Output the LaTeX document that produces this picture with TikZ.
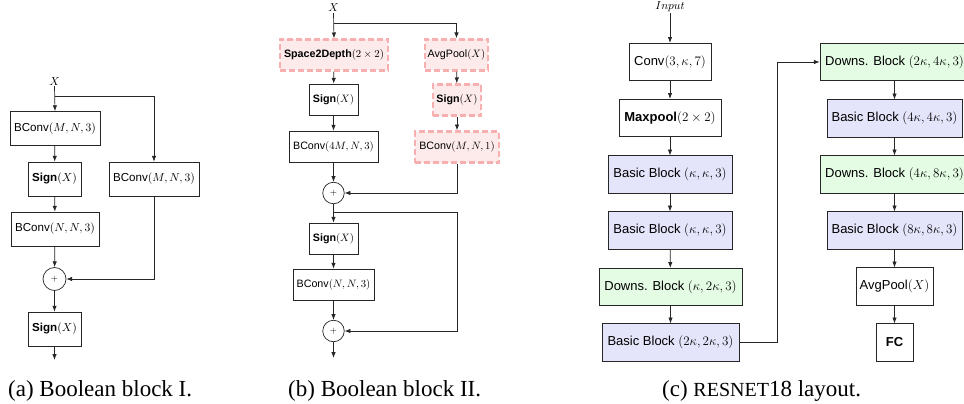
\documentclass[tikz,border=0pt]{standalone}
\usepackage{fix-cm}
\usepackage{fontspec}
\setmainfont{Liberation Sans}
\newfontfamily\capfont{Liberation Serif}
\usetikzlibrary{arrows.meta,shapes.geometric}
\definecolor{bbfill}{HTML}{E4E4FA}
\definecolor{dbfill}{HTML}{E4FBE4}
\definecolor{pinkline}{HTML}{F7AFAF}
\definecolor{pinkfill}{HTML}{FDEBEB}
\tikzset{
  arr/.style={draw=black!85, line width=0.7pt, -{Latex[length=5.8pt,width=4.4pt]}},
  boxa/.style={draw=black!85, line width=0.7pt, inner sep=0pt, minimum height=34pt, font=\fontsize{11.6}{13}\selectfont},
  boxb/.style={draw=black!85, line width=0.7pt, inner sep=0pt, minimum height=31pt, font=\fontsize{10.7}{12}\selectfont},
  pinkb/.style={draw=pinkline, fill=pinkfill, line width=2.4pt, dash pattern=on 6pt off 3pt, inner sep=0pt, minimum height=31pt, font=\fontsize{10.7}{12}\selectfont},
  boxc/.style={draw=black!85, line width=0.7pt, inner sep=0pt, minimum height=37.5pt, font=\fontsize{13}{15}\selectfont},
  bbc/.style={boxc, fill=bbfill},
  dbc/.style={boxc, fill=dbfill},
  plus/.style={circle, draw=black!85, line width=0.7pt, inner sep=0pt, font=\fontsize{9}{9}\selectfont},
  lbl/.style={inner sep=1pt, anchor=base, font=\fontsize{11.5}{13}\selectfont},
  captxt/.style={inner sep=0pt, anchor=base west, font=\capfont\fontsize{23}{26}\selectfont}
}
\begin{document}
\begin{tikzpicture}[x=1pt,y=-1pt]
\useasboundingbox (0,0) rectangle (964,404);
% ---------------- Panel (a)
\node[lbl] (ax) at (54.5,85) {$X$};
\node[boxa, minimum width=90pt] (a1) at (55,128.5) {BConv$(M,N,3)$};
\node[boxa, minimum width=53pt] (a2) at (54.5,179) {\textbf{Sign}$(X)$};
\node[boxa, minimum width=88pt] (a3) at (55,229) {BConv$(N,N,3)$};
\node[plus, minimum size=23pt] (a4) at (54.5,279) {$+$};
\node[boxa, minimum width=53pt] (a5) at (54.5,329) {\textbf{Sign}$(X)$};
\node[boxa, minimum width=90pt] (a6) at (154,179) {BConv$(M,N,3)$};
\coordinate (abr) at (54.5,96);
\coordinate (aend) at (54.5,360);
\draw[arr] (ax.south) -- (a1.north);
\draw[arr] (abr) -| (a6.north);
\draw[arr] (a1) -- (a2);
\draw[arr] (a2) -- (a3);
\draw[arr] (a3) -- (a4);
\draw[arr] (a6.south) |- (a4.east);
\draw[arr] (a4) -- (a5);
\draw[arr] (a5) -- (aend);
% ---------------- Panel (b)
\node[lbl] (bx) at (333.5,12) {$X$};
\node[pinkb, minimum width=108pt] (b1) at (334,55) {\textbf{Space2Depth}$(2\times 2)$};
\node[boxb, minimum width=49pt] (b2) at (333.5,99.5) {\textbf{Sign}$(X)$};
\node[boxb, minimum width=89pt] (b3) at (333.5,146.5) {BConv$(4M,N,3)$};
\node[plus, minimum size=21.5pt] (bp1) at (333.5,193) {$+$};
\node[boxb, minimum width=49pt] (b4) at (333.5,238.5) {\textbf{Sign}$(X)$};
\node[boxb, minimum width=81pt] (b5) at (333.5,284.5) {BConv$(N,N,3)$};
\node[plus, minimum size=21.5pt] (bp2) at (333.5,331) {$+$};
\node[pinkb, minimum width=63pt] (r1) at (456.5,55) {AvgPool$(X)$};
\node[pinkb, minimum width=48pt] (r2) at (457,100) {\textbf{Sign}$(X)$};
\node[pinkb, minimum width=84pt] (r3) at (457,147) {BConv$(M,N,1)$};
\coordinate (bbr) at (333.5,23);
\coordinate (bbr2) at (333.5,212);
\coordinate (bcor) at (457,212);
\coordinate (bend) at (333.5,358);
\draw[arr] (bx.south) -- (b1.north);
\draw[arr] (bbr) -| (r1.north);
\draw[arr] (b1) -- (b2);
\draw[arr] (b2) -- (b3);
\draw[arr] (b3) -- (bp1);
\draw[arr] (r1) -- (r2);
\draw[arr] (r2) -- (r3);
\draw[arr] (r3.south) |- (bp1.east);
\draw[arr] (bp1) -- (b4);
\draw[arr] (b4) -- (b5);
\draw[arr] (b5) -- (bp2);
\draw[arr] (bbr2) -- (bcor) |- (bp2.east);
\draw[arr] (bp2) -- (bend);
% ---------------- Panel (c)
\node[lbl] (cin) at (670,9.5) {$Input$};
\node[boxc, minimum width=82pt] (c1) at (670,62) {Conv$(3,\kappa,7)$};
\node[boxc, minimum width=102pt] (c2) at (670,118) {\textbf{Maxpool}$(2\times 2)$};
\node[bbc, minimum width=124pt] (c3) at (670,174.5) {Basic Block $(\kappa,\kappa,3)$};
\node[bbc, minimum width=124pt] (c4) at (670,230.5) {Basic Block $(\kappa,\kappa,3)$};
\node[dbc, minimum width=143pt] (c5) at (670.5,287) {Downs. Block $(\kappa,2\kappa,3)$};
\node[bbc, minimum width=137pt] (c6) at (670.5,342.5) {Basic Block $(2\kappa,2\kappa,3)$};
\node[dbc, minimum width=149pt] (d1) at (894.5,62) {Downs. Block $(2\kappa,4\kappa,3)$};
\node[bbc, minimum width=135pt] (d2) at (894.5,118.5) {Basic Block $(4\kappa,4\kappa,3)$};
\node[dbc, minimum width=149pt] (d3) at (894.5,174.5) {Downs. Block $(4\kappa,8\kappa,3)$};
\node[bbc, minimum width=135pt] (d4) at (894.5,230.5) {Basic Block $(8\kappa,8\kappa,3)$};
\node[boxc, minimum width=77pt] (d5) at (894.5,286.5) {AvgPool$(X)$};
\node[boxc, minimum width=37pt] (d6) at (894.5,342.5) {\textbf{FC}};
\coordinate (ccor) at (777,342.5);
\draw[arr] (cin.south) -- (c1.north);
\draw[arr] (c1) -- (c2);
\draw[arr] (c2) -- (c3);
\draw[arr] (c3) -- (c4);
\draw[arr] (c4) -- (c5);
\draw[arr] (c5) -- (c6);
\draw[arr] (c6.east) -- (ccor) |- (d1.west);
\draw[arr] (d1) -- (d2);
\draw[arr] (d2) -- (d3);
\draw[arr] (d3) -- (d4);
\draw[arr] (d4) -- (d5);
\draw[arr] (d5) -- (d6);
% ---------------- Captions
\node[captxt] (capa) at (8,396) {(a) Boolean block I.};
\node[captxt] (capb) at (288,396) {(b) Boolean block II.};
\node[captxt] (capc) at (662,396) {(c) {\fontsize{20}{22}\selectfont RESNET}18 layout.};
\end{tikzpicture}
\end{document}
